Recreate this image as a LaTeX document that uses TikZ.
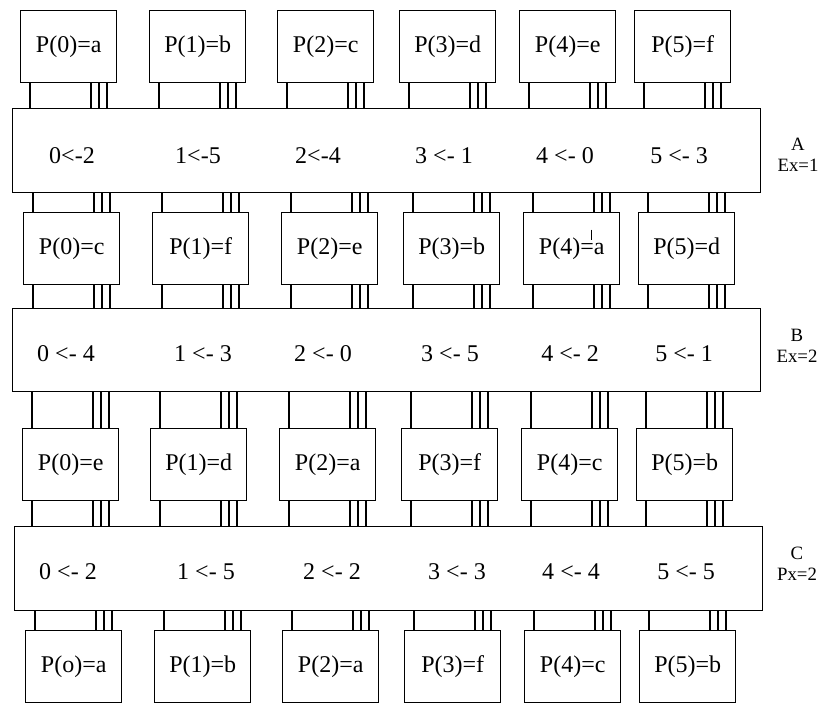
\documentclass[tikz,border=0pt]{standalone}
\usepackage{fontspec}
\setmainfont{Liberation Serif}
\usetikzlibrary{positioning, calc}

% four wires between a box and a bar
\newcommand{\busdown}[2]{%
  \draw[wire] ($(#1.south west)+(10,0)$) coordinate (w) -- (w |- #2.north);
  \draw[wire] ($(#1.south west)+(71,0)$) coordinate (w) -- (w |- #2.north);
  \draw[wire] ($(#1.south west)+(79,0)$) coordinate (w) -- (w |- #2.north);
  \draw[wire] ($(#1.south west)+(87,0)$) coordinate (w) -- (w |- #2.north);
}
\newcommand{\busup}[2]{%
  \draw[wire] ($(#1.north west)+(10,0)$) coordinate (w) -- (w |- #2.south);
  \draw[wire] ($(#1.north west)+(71,0)$) coordinate (w) -- (w |- #2.south);
  \draw[wire] ($(#1.north west)+(79,0)$) coordinate (w) -- (w |- #2.south);
  \draw[wire] ($(#1.north west)+(87,0)$) coordinate (w) -- (w |- #2.south);
}

\begin{document}
\begin{tikzpicture}[
    x=0.5pt, y=-0.5pt, line width=0.7pt,
    proc/.style={draw, anchor=north west, minimum width=48pt, minimum height=36pt, inner sep=0pt, font=\fontsize{12}{14}\selectfont},
    bus/.style={draw, anchor=north west, minimum width=374pt, minimum height=42pt, inner sep=0pt},
    swap/.style={inner sep=0pt, font=\fontsize{12}{14}\selectfont},
    tag/.style={align=center, inner sep=0pt, font=\fontsize{9.4}{10.5}\selectfont},
    wire/.style={draw, line width=0.7pt}
]
    \useasboundingbox (0,0) rectangle (822,703);

    % bars
    \node[bus] (xA) at (12,108) {};
    \node[bus, minimum height=41.5pt] (xB) at (12,308) {};
    \node[bus] (xC) at (14,526) {};

    % row 1
    \node[proc] (p10) at (20,10) {P(0)=a};
    \node[proc] (p11) at (149,10) {P(1)=b};
    \node[proc] (p12) at (277,10) {P(2)=c};
    \node[proc] (p13) at (399,10) {P(3)=d};
    \node[proc] (p14) at (519,10) {P(4)=e};
    \node[proc] (p15) at (634,10) {P(5)=f};

    % row 2
    \node[proc] (p20) at (23,212) {P(0)=c};
    \node[proc] (p21) at (152,212) {P(1)=f};
    \node[proc] (p22) at (281,212) {P(2)=e};
    \node[proc] (p23) at (403,212) {P(3)=b};
    \node[proc] (p24) at (523,212) {P(4)=a};
    \node[proc] (p25) at (638,212) {P(5)=d};
    \draw[line width=0.5pt] ($(p24.center)+(20,-19)$) -- ($(p24.center)+(20,-9)$);

    % row 3
    \node[proc] (p30) at (22,428) {P(0)=e};
    \node[proc] (p31) at (150,428) {P(1)=d};
    \node[proc] (p32) at (279,428) {P(2)=a};
    \node[proc] (p33) at (401,428) {P(3)=f};
    \node[proc] (p34) at (521,428) {P(4)=c};
    \node[proc] (p35) at (636,428) {P(5)=b};

    % row 4
    \node[proc] (p40) at (25,630) {P(o)=a};
    \node[proc] (p41) at (154,630) {P(1)=b};
    \node[proc] (p42) at (282,630) {P(2)=a};
    \node[proc] (p43) at (404,630) {P(3)=f};
    \node[proc] (p44) at (524,630) {P(4)=c};
    \node[proc] (p45) at (639,630) {P(5)=b};

    % bar texts
    \node[swap] (sA0) at (72,156) {0<-2};
    \node[swap] (sA1) at (198,156) {1<-5};
    \node[swap] (sA2) at (318,156) {2<-4};
    \node[swap] (sA3) at (444,156) {3 <- 1};
    \node[swap] (sA4) at (565,156) {4 <- 0};
    \node[swap] (sA5) at (679,156) {5 <- 3};

    \node[swap] (sB0) at (66,354) {0 <- 4};
    \node[swap] (sB1) at (203,354) {1 <- 3};
    \node[swap] (sB2) at (323,354) {2 <- 0};
    \node[swap] (sB3) at (450,354) {3 <- 5};
    \node[swap] (sB4) at (570,354) {4 <- 2};
    \node[swap] (sB5) at (684,354) {5 <- 1};

    \node[swap] (sC0) at (68,572) {0 <- 2};
    \node[swap] (sC1) at (206,572) {1 <- 5};
    \node[swap] (sC2) at (332,572) {2 <- 2};
    \node[swap] (sC3) at (457,572) {3 <- 3};
    \node[swap] (sC4) at (571,572) {4 <- 4};
    \node[swap] (sC5) at (686,572) {5 <- 5};

    % stage labels
    \node[tag] (labA) at (798,155) {A\\Ex=1};
    \node[tag] (labB) at (797,346) {B\\Ex=2};
    \node[tag] (labC) at (797,564) {C\\Px=2};

    % wires
    \busdown{p10}{xA} \busdown{p11}{xA} \busdown{p12}{xA} \busdown{p13}{xA} \busdown{p14}{xA} \busdown{p15}{xA}
    \busup{p20}{xA} \busup{p21}{xA} \busup{p22}{xA} \busup{p23}{xA} \busup{p24}{xA} \busup{p25}{xA}
    \busdown{p20}{xB} \busdown{p21}{xB} \busdown{p22}{xB} \busdown{p23}{xB} \busdown{p24}{xB} \busdown{p25}{xB}
    \busup{p30}{xB} \busup{p31}{xB} \busup{p32}{xB} \busup{p33}{xB} \busup{p34}{xB} \busup{p35}{xB}
    \busdown{p30}{xC} \busdown{p31}{xC} \busdown{p32}{xC} \busdown{p33}{xC} \busdown{p34}{xC} \busdown{p35}{xC}
    \busup{p40}{xC} \busup{p41}{xC} \busup{p42}{xC} \busup{p43}{xC} \busup{p44}{xC} \busup{p45}{xC}
\end{tikzpicture}
\end{document}
